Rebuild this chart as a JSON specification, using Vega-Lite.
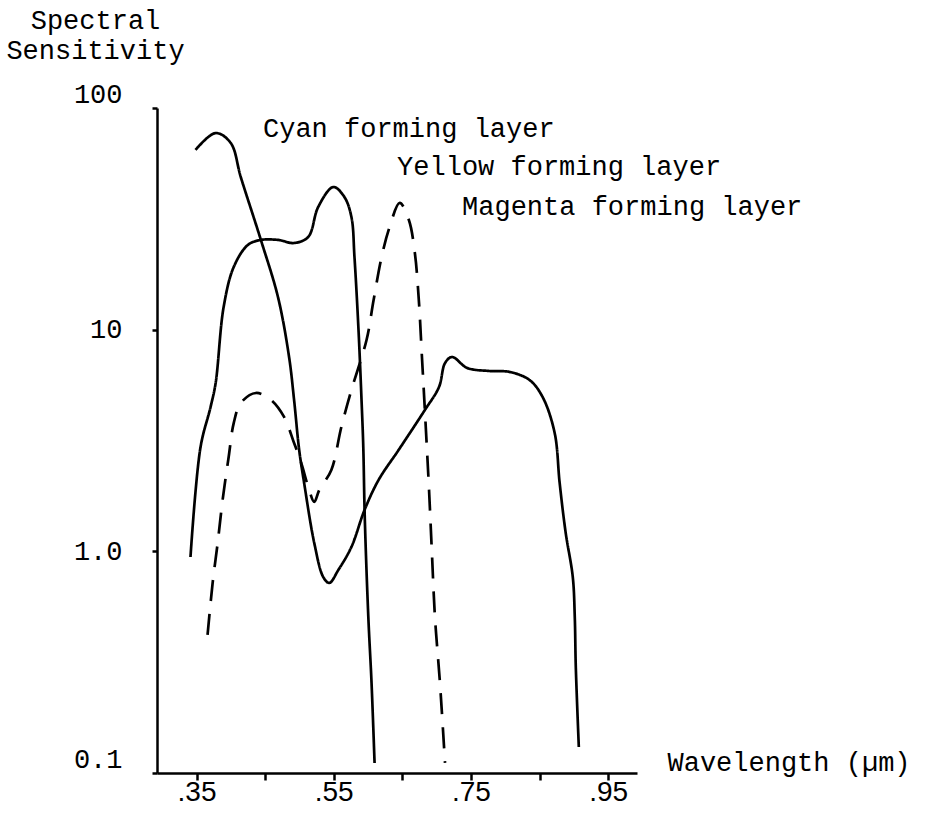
{
  "$schema": "https://vega.github.io/schema/vega-lite/v6.json",
  "width": 480,
  "height": 665,
  "autosize": {"type": "none"},
  "padding": {"left": 157, "top": 108, "right": 305, "bottom": 42},
  "background": "white",
  "config": {"view": {"stroke": null}, "font": "Liberation Mono"},
  "datasets": {
    "curves": [
      {"series": "Cyan forming layer", "wl": 0.3485, "s": 64.7},
      {"series": "Cyan forming layer", "wl": 0.3779, "s": 77.1},
      {"series": "Cyan forming layer", "wl": 0.3999, "s": 69.5},
      {"series": "Cyan forming layer", "wl": 0.4145, "s": 48.8},
      {"series": "Cyan forming layer", "wl": 0.4438, "s": 25.4},
      {"series": "Cyan forming layer", "wl": 0.4688, "s": 14.0},
      {"series": "Cyan forming layer", "wl": 0.4849, "s": 7.53},
      {"series": "Cyan forming layer", "wl": 0.4922, "s": 4.82},
      {"series": "Cyan forming layer", "wl": 0.4996, "s": 2.87},
      {"series": "Cyan forming layer", "wl": 0.5069, "s": 2.03},
      {"series": "Cyan forming layer", "wl": 0.5216, "s": 1.09},
      {"series": "Cyan forming layer", "wl": 0.5347, "s": 0.766},
      {"series": "Cyan forming layer", "wl": 0.5435, "s": 0.72},
      {"series": "Cyan forming layer", "wl": 0.5567, "s": 0.824},
      {"series": "Cyan forming layer", "wl": 0.5758, "s": 1.047},
      {"series": "Cyan forming layer", "wl": 0.5949, "s": 1.537},
      {"series": "Cyan forming layer", "wl": 0.6154, "s": 2.10},
      {"series": "Cyan forming layer", "wl": 0.6447, "s": 2.87},
      {"series": "Cyan forming layer", "wl": 0.6828, "s": 4.34},
      {"series": "Cyan forming layer", "wl": 0.7034, "s": 5.51},
      {"series": "Cyan forming layer", "wl": 0.7122, "s": 7.07},
      {"series": "Cyan forming layer", "wl": 0.7224, "s": 7.53},
      {"series": "Cyan forming layer", "wl": 0.7444, "s": 6.72},
      {"series": "Cyan forming layer", "wl": 0.7767, "s": 6.51},
      {"series": "Cyan forming layer", "wl": 0.806, "s": 6.45},
      {"series": "Cyan forming layer", "wl": 0.8353, "s": 5.93},
      {"series": "Cyan forming layer", "wl": 0.8544, "s": 4.97},
      {"series": "Cyan forming layer", "wl": 0.872, "s": 3.42},
      {"series": "Cyan forming layer", "wl": 0.8793, "s": 2.03},
      {"series": "Cyan forming layer", "wl": 0.8881, "s": 1.21},
      {"series": "Cyan forming layer", "wl": 0.8984, "s": 0.766},
      {"series": "Cyan forming layer", "wl": 0.9013, "s": 0.506},
      {"series": "Cyan forming layer", "wl": 0.9028, "s": 0.301},
      {"series": "Cyan forming layer", "wl": 0.9072, "s": 0.131},

      {"series": "Yellow forming layer", "wl": 0.3412, "s": 0.943},
      {"series": "Yellow forming layer", "wl": 0.3559, "s": 2.96},
      {"series": "Yellow forming layer", "wl": 0.3705, "s": 4.48},
      {"series": "Yellow forming layer", "wl": 0.3779, "s": 5.75},
      {"series": "Yellow forming layer", "wl": 0.3896, "s": 12.7},
      {"series": "Yellow forming layer", "wl": 0.4043, "s": 19.2},
      {"series": "Yellow forming layer", "wl": 0.4248, "s": 24.1},
      {"series": "Yellow forming layer", "wl": 0.4438, "s": 25.4},
      {"series": "Yellow forming layer", "wl": 0.4688, "s": 25.4},
      {"series": "Yellow forming layer", "wl": 0.4922, "s": 24.6},
      {"series": "Yellow forming layer", "wl": 0.5128, "s": 26.2},
      {"series": "Yellow forming layer", "wl": 0.5274, "s": 35.8},
      {"series": "Yellow forming layer", "wl": 0.5494, "s": 44.0},
      {"series": "Yellow forming layer", "wl": 0.5655, "s": 39.7},
      {"series": "Yellow forming layer", "wl": 0.5758, "s": 32.2},
      {"series": "Yellow forming layer", "wl": 0.5802, "s": 21.3},
      {"series": "Yellow forming layer", "wl": 0.5861, "s": 9.97},
      {"series": "Yellow forming layer", "wl": 0.5905, "s": 4.82},
      {"series": "Yellow forming layer", "wl": 0.5930, "s": 3.0},
      {"series": "Yellow forming layer", "wl": 0.5952, "s": 1.43},
      {"series": "Yellow forming layer", "wl": 0.6004, "s": 0.506},
      {"series": "Yellow forming layer", "wl": 0.6051, "s": 0.255},
      {"series": "Yellow forming layer", "wl": 0.6095, "s": 0.111},

      {"series": "Magenta forming layer", "wl": 0.3661, "s": 0.42},
      {"series": "Magenta forming layer", "wl": 0.3735, "s": 0.72},
      {"series": "Magenta forming layer", "wl": 0.3808, "s": 1.09},
      {"series": "Magenta forming layer", "wl": 0.3881, "s": 1.71},
      {"series": "Magenta forming layer", "wl": 0.3969, "s": 2.67},
      {"series": "Magenta forming layer", "wl": 0.4043, "s": 3.8},
      {"series": "Magenta forming layer", "wl": 0.4145, "s": 4.67},
      {"series": "Magenta forming layer", "wl": 0.4365, "s": 5.18},
      {"series": "Magenta forming layer", "wl": 0.4585, "s": 4.82},
      {"series": "Magenta forming layer", "wl": 0.4776, "s": 4.04},
      {"series": "Magenta forming layer", "wl": 0.4922, "s": 3.08},
      {"series": "Magenta forming layer", "wl": 0.5025, "s": 2.51},
      {"series": "Magenta forming layer", "wl": 0.5142, "s": 1.89},
      {"series": "Magenta forming layer", "wl": 0.5216, "s": 1.67},
      {"series": "Magenta forming layer", "wl": 0.5289, "s": 1.89},
      {"series": "Magenta forming layer", "wl": 0.5465, "s": 2.33},
      {"series": "Magenta forming layer", "wl": 0.5611, "s": 3.64},
      {"series": "Magenta forming layer", "wl": 0.5758, "s": 5.35},
      {"series": "Magenta forming layer", "wl": 0.5978, "s": 8.98},
      {"series": "Magenta forming layer", "wl": 0.6081, "s": 13.6},
      {"series": "Magenta forming layer", "wl": 0.6198, "s": 21.3},
      {"series": "Magenta forming layer", "wl": 0.6315, "s": 29.1},
      {"series": "Magenta forming layer", "wl": 0.6462, "s": 37.3},
      {"series": "Magenta forming layer", "wl": 0.6594, "s": 31.3},
      {"series": "Magenta forming layer", "wl": 0.6682, "s": 22.2},
      {"series": "Magenta forming layer", "wl": 0.674, "s": 13.6},
      {"series": "Magenta forming layer", "wl": 0.6784, "s": 7.69},
      {"series": "Magenta forming layer", "wl": 0.6828, "s": 4.34},
      {"series": "Magenta forming layer", "wl": 0.6887, "s": 1.95},
      {"series": "Magenta forming layer", "wl": 0.6931, "s": 0.983},
      {"series": "Magenta forming layer", "wl": 0.6975, "s": 0.506},
      {"series": "Magenta forming layer", "wl": 0.7048, "s": 0.255},
      {"series": "Magenta forming layer", "wl": 0.7122, "s": 0.111}
    ],
    "labels": [
      {"label": "Cyan forming layer", "wl": 0.4469, "s": 74.0},
      {"label": "Yellow forming layer", "wl": 0.6423, "s": 49.9},
      {"label": "Magenta forming layer", "wl": 0.737, "s": 32.9}
    ]
  },
  "layer": [
    {
      "data": {"name": "curves"},
      "mark": {"type": "line", "interpolate": "catmull-rom", "strokeWidth": 2.7, "color": "black"},
      "encoding": {
        "x": {
          "field": "wl", "type": "quantitative",
          "scale": {"domain": [0.2924, 0.992], "nice": false, "zero": false},
          "axis": {
            "values": [0.35, 0.45, 0.55, 0.65, 0.75, 0.85, 0.95],
            "labelExpr": "(abs(datum.value-0.35)<0.001||abs(datum.value-0.55)<0.001||abs(datum.value-0.75)<0.001||abs(datum.value-0.95)<0.001) ? '.' + substring(format(datum.value,'.2f'),2) : ''",
            "grid": false,
            "domainColor": "black", "domainWidth": 2.5,
            "tickColor": "black", "tickWidth": 2.5, "tickSize": 7,
            "labelFont": "Liberation Sans", "labelFontSize": 28, "labelColor": "black",
            "labelPadding": -2, "labelFlush": false, "labelOverlap": false,
            "title": "Wavelength (µm)",
            "titleFont": "Liberation Mono", "titleFontSize": 27, "titleFontWeight": "normal", "titleColor": "black",
            "titleX": 510, "titleY": -3, "titleAlign": "left", "titleBaseline": "alphabetic"
          }
        },
        "y": {
          "field": "s", "type": "quantitative",
          "scale": {"type": "log", "domain": [0.1, 100], "nice": false},
          "axis": {
            "values": [0.1, 1, 10, 100],
            "labelExpr": "datum.value >= 100 ? '100' : datum.value >= 10 ? '10' : datum.value >= 1 ? '1.0' : '0.1'",
            "grid": false,
            "domainColor": "black", "domainWidth": 2.5,
            "tickColor": "black", "tickWidth": 2.5, "tickSize": 5,
            "labelFont": "Liberation Mono", "labelFontSize": 27, "labelColor": "black",
            "labelPadding": 30, "labelFlush": false, "labelOverlap": false,
            "labelBaseline": {"condition": {"test": "datum.value <= 0.1 || datum.value >= 100", "value": "bottom"}, "value": "middle"},
            "title": ["Spectral", "Sensitivity"],
            "titleFont": "Liberation Mono", "titleFontSize": 27, "titleFontWeight": "normal", "titleColor": "black",
            "titleAngle": 0, "titleX": -62, "titleY": -80, "titleAlign": "center", "titleBaseline": "alphabetic",
            "titleLineHeight": 30
          }
        },
        "detail": {"field": "series"},
        "strokeDash": {
          "field": "series", "type": "nominal",
          "scale": {"domain": ["Cyan forming layer", "Yellow forming layer", "Magenta forming layer"], "range": [[1, 0], [1, 0], [21, 13]]},
          "legend": null
        }
      }
    },
    {
      "data": {"name": "labels"},
      "mark": {"type": "text", "align": "left", "baseline": "alphabetic", "fontSize": 27, "font": "Liberation Mono", "color": "black"},
      "encoding": {
        "x": {"field": "wl", "type": "quantitative"},
        "y": {"field": "s", "type": "quantitative"},
        "text": {"field": "label"}
      }
    }
  ]
}
